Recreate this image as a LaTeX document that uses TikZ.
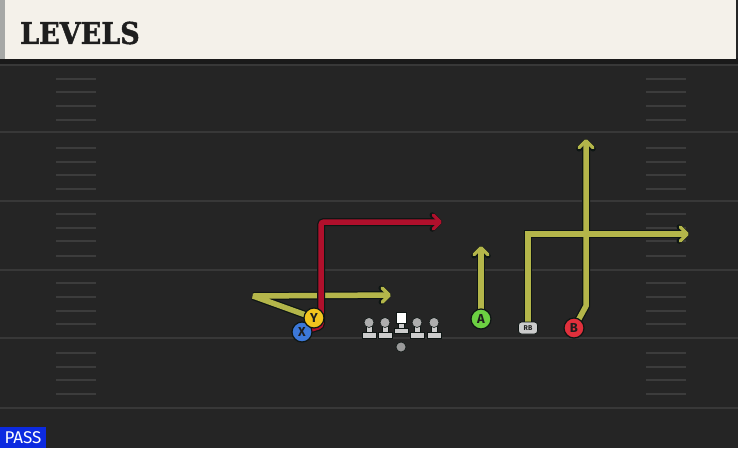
\documentclass[tikz,border=0pt]{standalone}
\usepackage{fontspec}
\usetikzlibrary{arrows.meta}
\newfontfamily\titlefont[FakeBold=1.5]{DejaVu Serif Bold}
\newfontfamily\labfont{Fira Sans}
\definecolor{bg}{HTML}{252525}
\definecolor{band}{HTML}{1A1A1A}
\definecolor{yardc}{HTML}{383838}
\definecolor{hashc}{HTML}{3C3C3C}
\definecolor{cream}{HTML}{F4F1EA}
\definecolor{strip}{HTML}{A6A8A6}
\definecolor{titlec}{HTML}{1E1E1E}
\definecolor{routey}{HTML}{B4B64A}
\definecolor{router}{HTML}{B0102C}
\definecolor{outl}{HTML}{0E1614}
\definecolor{pblue}{HTML}{3C78D8}
\definecolor{pyellow}{HTML}{F2C41E}
\definecolor{pgreen}{HTML}{6CD042}
\definecolor{pred}{HTML}{E0303C}
\definecolor{lgray}{HTML}{CCCCCC}
\definecolor{mgray}{HTML}{9A9A9A}
\definecolor{passblue}{HTML}{0C2AE0}
\tikzset{
  routeout/.style={draw=outl, line width=8pt, line join=miter, miter limit=2.5,
    -{Straight Barb[length=7pt, width=14pt, line width=5.5pt, round]}},
  routeyel/.style={draw=routey, line width=5.5pt, line join=miter, miter limit=2.5,
    -{Straight Barb[length=7pt, width=14pt, line width=3.5pt, round]}},
  routered/.style={draw=router, line width=5.5pt, line join=miter, miter limit=2.5,
    -{Straight Barb[length=7pt, width=14pt, line width=3.5pt, round]}},
  player/.style={circle, draw=outl, line width=1.2pt, minimum size=20pt, inner sep=0pt,
    font=\labfont\bfseries\fontsize{13}{13}\selectfont, text=titlec},
  yard/.style={draw=yardc, line width=2.2pt},
  hash/.style={draw=hashc, line width=2.2pt},
  lineman/.style={fill=lgray, draw=outl, line width=0.6pt},
}
\begin{document}
\begin{tikzpicture}[x=1pt, y=-1pt]
\useasboundingbox (0,0) rectangle (738,448);
\fill[bg] (0,0) rectangle (738,448);
% header
\fill[band] (0,58) rectangle (738,64);
\fill[cream] (5,0) rectangle (736,59);
\fill[strip] (0,0) rectangle (5,59);
\node[anchor=west, inner sep=0pt, text=titlec, font=\titlefont\fontsize{30}{30}\selectfont, xscale=0.9] (title) at (20,33) {LEVELS};
% yard lines
\foreach \yy in {65,132,201,270,338,408} \draw[yard] (0,\yy) -- (738,\yy);
% hash marks
\foreach \yy in {79,92,106,120,148,162,175,189,214,228,241,256,283,297,311,324,353,367,380,394} {
  \draw[hash] (56,\yy) -- (96,\yy);
  \draw[hash] (646,\yy) -- (686,\yy);
}
% players (positions)
\coordinate (Xc) at (302,332);
\coordinate (Yc) at (314,318);
\coordinate (Ac) at (481,319);
\coordinate (Bc) at (574,328);
\coordinate (RBc) at (528,328);
% route waypoints
\coordinate (y1) at (253,296);
\coordinate (y2) at (391,295);
\coordinate (r1) at (321,326);
\coordinate (r2) at (321,222);
\coordinate (r3) at (442,222);
\coordinate (a1) at (481,246);
\coordinate (rb1) at (528,234);
\coordinate (rb2) at (689,234);
\coordinate (b1) at (586,306);
\coordinate (b2) at (586,139);
% routes
\draw[routeout] (Yc) -- (y1) -- (y2);
\draw[routeyel] (Yc) -- (y1) -- (y2);
\draw[routeout] (Ac) -- (a1);
\draw[routeyel] (Ac) -- (a1);
\draw[routeout] (RBc) -- (rb1) -- (rb2);
\draw[routeout] (Bc) -- (b1) -- (b2);
\draw[routeyel] (RBc) -- (rb1) -- (rb2);
\draw[routeyel] (Bc) -- (b1) -- (b2);
\draw[routeout, rounded corners=3pt] (Xc) -- (r1) -- (r2) -- (r3);
\draw[routered, rounded corners=3pt] (Xc) -- (r1) -- (r2) -- (r3);
% players
\node[player, fill=pblue] (X) at (Xc) {X};
\node[player, fill=pyellow] (Y) at (Yc) {Y};
\node[player, fill=pgreen] (A) at (Ac) {A};
\node[player, fill=pred] (B) at (Bc) {B};
\node[fill=lgray, draw=outl, line width=0.8pt, rounded corners=3pt, minimum width=19pt, minimum height=12pt, inner sep=0pt,
  font=\labfont\bfseries\fontsize{7}{7}\selectfont, text=titlec] (RB) at (RBc) {RB};
% offensive line
\foreach \xx/\nm in {369/lt,385/lg,417/rg,434/rt} {
  \fill[lineman] (\xx-7,338.5) rectangle (\xx+7,332.5);
  \fill[lineman] (\xx-2.8,332.5) rectangle (\xx+2.8,325);
  \fill[lineman, fill=mgray!60!lgray] (\xx,322.5) circle (5);
  \coordinate (\nm) at (\xx,330);
}
\fill[lineman] (394,333.5) rectangle (408,328);
\fill[lineman] (398.2,328) rectangle (403.8,322);
\fill[white, draw=outl, line width=0.6pt] (396,312.5) rectangle (406,323);
\coordinate (c) at (401,325);
\fill[mgray, draw=outl, line width=0.6pt] (401,347) circle (5);
\coordinate (ball) at (401,347);
% pass tag
\fill[passblue] (0,427) rectangle (46,448);
\node[text=white, inner sep=0pt, font=\labfont\fontsize{17}{17}\selectfont] (pass) at (23,438) {PASS};
\end{tikzpicture}
\end{document}
